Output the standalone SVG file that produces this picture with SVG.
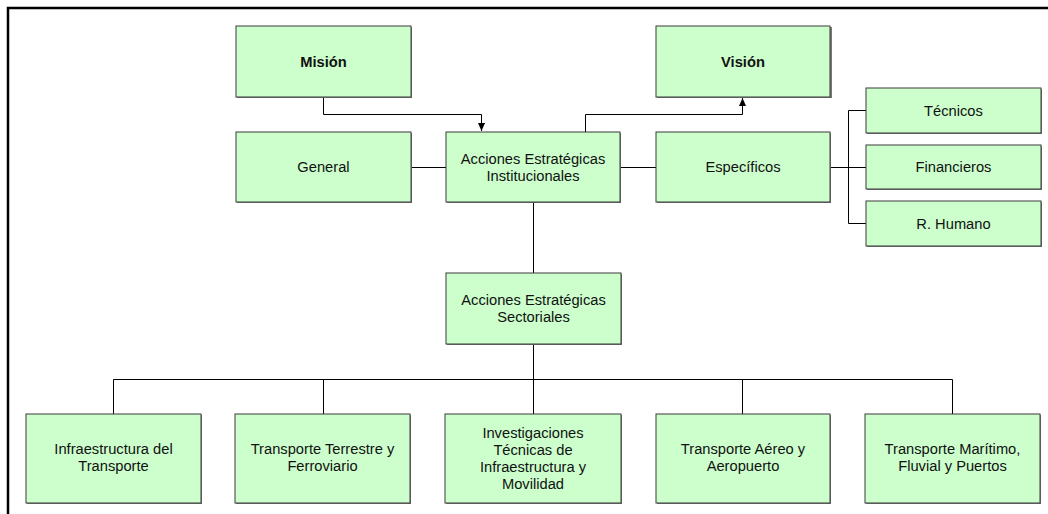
<svg xmlns="http://www.w3.org/2000/svg" width="1048" height="514" viewBox="0 0 1048 514">
<defs>
<style>
.box{fill:#ccffcc;stroke:#3a3a3a;stroke-width:1}
.sh{fill:#7a7a7a}
.t{font-family:"Liberation Sans",Arial,sans-serif;font-size:14.7px;fill:#111;text-anchor:middle}
.b{font-weight:bold}
.c{fill:none;stroke:#000;stroke-width:1}
</style>
<marker id="ah" viewBox="0 0 10 10" refX="10" refY="5" markerWidth="8" markerHeight="7" orient="auto" markerUnits="userSpaceOnUse" preserveAspectRatio="none"><path d="M0,0 L10,5 L0,10 z" fill="#000"/></marker>
</defs>
<rect width="1048" height="514" fill="#fff"/>
<path d="M8,514 V8 H1048" fill="none" stroke="#000" stroke-width="2.5"/>
<g id="connectors">
<path class="c" d="M323.5,97 V114.5 H481.5 V131" marker-end="url(#ah)"/>
<path class="c" d="M585.5,132 V114.5 H742.5 V98" marker-end="url(#ah)"/>
<path class="c" d="M411,167.5 H446"/>
<path class="c" d="M620,167.5 H656"/>
<path class="c" d="M830,167.5 H866 M848.5,110.5 V223.5 M848.5,110.5 H866 M848.5,223.5 H866"/>
<path class="c" d="M533.5,202 V273"/>
<path class="c" d="M533.5,344 V379.5 M113.5,379.5 H952.5 M113.5,379.5 V414 M323.5,379.5 V414 M533.5,379.5 V414 M742.5,379.5 V414 M952.5,379.5 V414"/>
</g>
<g id="mision"><rect class="sh" x="237" y="27" width="175" height="71"/><rect class="box" x="236" y="26" width="175" height="71"/><text class="t b" x="323.5" y="66.5">Misión</text></g>
<g id="vision"><rect class="sh" x="657" y="27" width="175" height="71"/><rect class="box" x="656" y="26" width="174" height="71"/><text class="t b" x="743" y="66.5">Visión</text></g>
<g id="general"><rect class="sh" x="237" y="133" width="175" height="70"/><rect class="box" x="236" y="132" width="175" height="70"/><text class="t" x="323.5" y="172">General</text></g>
<g id="institucionales"><rect class="sh" x="447" y="133" width="174" height="70"/><rect class="box" x="446" y="132" width="174" height="70"/><text class="t" x="533" y="163.5">Acciones Estratégicas</text><text class="t" x="533" y="181">Institucionales</text></g>
<g id="especificos"><rect class="sh" x="657" y="133" width="174" height="70"/><rect class="box" x="656" y="132" width="174" height="70"/><text class="t" x="743" y="172">Específicos</text></g>
<g id="tecnicos"><rect class="sh" x="867" y="89" width="175" height="45"/><rect class="box" x="866" y="88" width="175" height="45"/><text class="t" x="953.5" y="115.5">Técnicos</text></g>
<g id="financieros"><rect class="sh" x="867" y="146" width="175" height="44"/><rect class="box" x="866" y="145" width="175" height="44"/><text class="t" x="953.5" y="172">Financieros</text></g>
<g id="rhumano"><rect class="sh" x="867" y="202" width="175" height="45"/><rect class="box" x="866" y="201" width="175" height="45"/><text class="t" x="953.5" y="228.5">R. Humano</text></g>
<g id="sectoriales"><rect class="sh" x="447" y="274" width="175" height="71"/><rect class="box" x="446" y="273" width="175" height="71"/><text class="t" x="533.5" y="304.5">Acciones Estratégicas</text><text class="t" x="533.5" y="322">Sectoriales</text></g>
<g id="infraestructura"><rect class="sh" x="27" y="415" width="175" height="89"/><rect class="box" x="26" y="414" width="175" height="89"/><text class="t" x="113.5" y="454">Infraestructura del</text><text class="t" x="113.5" y="471">Transporte</text></g>
<g id="terrestre"><rect class="sh" x="236" y="415" width="175" height="89"/><rect class="box" x="235" y="414" width="175" height="89"/><text class="t" x="322.5" y="454">Transporte Terrestre y</text><text class="t" x="322.5" y="471">Ferroviario</text></g>
<g id="investigaciones"><rect class="sh" x="446" y="415" width="176" height="89"/><rect class="box" x="445" y="414" width="176" height="89"/><text class="t" x="533" y="437.5">Investigaciones</text><text class="t" x="533" y="454.5">Técnicas de</text><text class="t" x="533" y="471.5">Infraestructura y</text><text class="t" x="533" y="488.5">Movilidad</text></g>
<g id="aereo"><rect class="sh" x="657" y="415" width="174" height="89"/><rect class="box" x="656" y="414" width="174" height="89"/><text class="t" x="743" y="454">Transporte Aéreo y</text><text class="t" x="743" y="471">Aeropuerto</text></g>
<g id="maritimo"><rect class="sh" x="866" y="415" width="175" height="89"/><rect class="box" x="865" y="414" width="175" height="89"/><text class="t" x="952.5" y="454">Transporte Marítimo,</text><text class="t" x="952.5" y="471">Fluvial y Puertos</text></g>
</svg>
